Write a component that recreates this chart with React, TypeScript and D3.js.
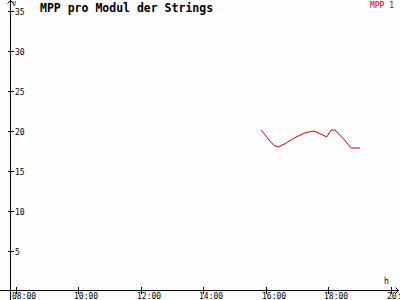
import React from "react";
import * as d3 from "d3";

const title = "MPP pro Modul der Strings";
const seriesName = "MPP 1";
// time in decimal hours, value in V
const times = [15.86, 16.14, 16.27, 16.41, 16.62, 16.94, 17.26, 17.48, 17.58, 17.74, 17.96, 18.1, 18.22, 18.49, 18.74, 19.02];
const values = [20.06, 18.69, 18.15, 17.94, 18.35, 19.1, 19.69, 19.9, 19.9, 19.6, 19.19, 20.06, 20.06, 18.98, 17.81, 17.81];
const xTicks = [8, 10, 12, 14, 16, 18, 20];
const xTickLabels = ["08:00", "10:00", "12:00", "14:00", "16:00", "18:00", "20:00"];
const yTicks = [5, 10, 15, 20, 25, 30, 35];
const yUnit = "V";
const xUnit = "h";

export default function App() {
  const W = 400, H = 300;
  const x = d3.scaleLinear().domain([8, 20]).range([15.5, 390.5]);
  const y = d3.scaleLinear().domain([0, 35]).range([290.5, 10.5]);
  const pts = times.map((t, i) => [x(t), y(values[i])] as [number, number]);
  const line = d3.line()(pts) || "";
  const font = "'DejaVu Sans Mono', monospace";
  const axisX = 10.5;
  const axisY = 290.5;
  return (
    <svg width={W} height={H} style={{ position: "absolute", left: 0, top: 0, background: "#fff" }}>
      <rect x={0} y={0} width={W} height={H} fill="#fdfdfd" />
      {/* axes */}
      <line x1={axisX} y1={0} x2={axisX} y2={H} stroke="#000" strokeWidth={1} shapeRendering="crispEdges" />
      <line x1={0} y1={axisY} x2={398} y2={axisY} stroke="#000" strokeWidth={1} shapeRendering="crispEdges" />
      <path d={`M${axisX - 3},3.5 L${axisX},0.5 L${axisX + 3},3.5`} fill="none" stroke="#000" strokeWidth={1} />
      <path d={`M395.5,${axisY - 3} L398.5,${axisY} L395.5,${axisY + 3}`} fill="none" stroke="#000" strokeWidth={1} />
      {yTicks.map((t) => (
        <g key={"y" + t}>
          <line x1={8} x2={14} y1={Math.round(y(t)) + 0.5} y2={Math.round(y(t)) + 0.5} stroke="#000" shapeRendering="crispEdges" />
          <text x={15} y={Math.round(y(t)) + 3.5} fontFamily={font} fontSize={8} fill="#000">{t}</text>
        </g>
      ))}
      {xTicks.map((t, i) => (
        <g key={"x" + t}>
          <line x1={Math.round(x(t)) + 0.5} x2={Math.round(x(t)) + 0.5} y1={287} y2={294} stroke="#000" shapeRendering="crispEdges" />
          <text x={Math.round(x(t)) - 4} y={299} fontFamily={font} fontSize={8} fill="#000">{xTickLabels[i]}</text>
        </g>
      ))}
      <text x={12} y={6} fontFamily={font} fontSize={7} fill="#000">{yUnit}</text>
      <text x={384} y={284} fontFamily={font} fontSize={8} fill="#000">{xUnit}</text>
      {/* title */}
      <text x={40} y={11.5} fontFamily={font} fontWeight="bold" fontSize={11.5} fill="#000">{title}</text>
      {/* legend */}
      <text x={394} y={7.5} textAnchor="end" fontFamily={font} fontSize={8} fill="#c00000">{seriesName}</text>
      {/* series */}
      <path d={line} fill="none" stroke="#cc0000" strokeWidth={1} />
    </svg>
  );
}
